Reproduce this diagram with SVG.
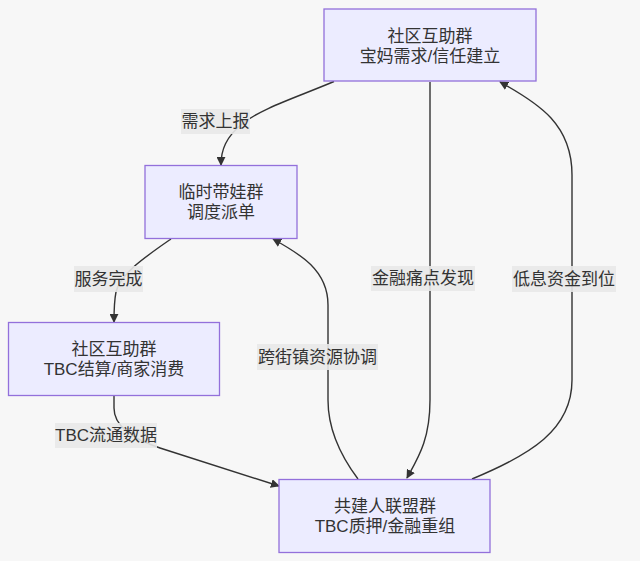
<svg xmlns="http://www.w3.org/2000/svg" width="640" height="561" viewBox="0 0 640 561">
<style>
.bg{fill:#f7f7f7}
.node rect{fill:#ECECFF;stroke:#9370DB;stroke-width:1.3}
text{font-family:"Liberation Sans","Noto Sans CJK SC",sans-serif;font-size:17px;fill:#333;text-anchor:middle;dominant-baseline:central}
.edge{fill:none;stroke:#333;stroke-width:1.4}
.lbl rect{fill:#e8e8e8;fill-opacity:0.9}
</style>
<defs>
<marker id="arr" viewBox="0 0 10 10" refX="9" refY="5" markerUnits="userSpaceOnUse" markerWidth="9" markerHeight="9" orient="auto">
<path d="M0,0 L10,5 L0,10 z" fill="#333"/>
</marker>
</defs>
<rect class="bg" x="0" y="0" width="640" height="561"/>
<g id="connectors">
<path class="edge" d="M334,81.5 C295,98 262,108 242,124 C226,137 221,150 221,165" marker-end="url(#arr)"/>
<path class="edge" d="M171,239 C145,257 120,274 116,292 C114,302 114,310 114,322" marker-end="url(#arr)"/>
<path class="edge" d="M114,396 L114,408 C114,425 130,438 160,448 L279,486" marker-end="url(#arr)"/>
<path class="edge" d="M430,82 L430,400 C430,440 418,458 407,478" marker-end="url(#arr)"/>
<path class="edge" d="M472,479 C530,455 572,430 572,380 L572,175 C572,125 540,104 500,82" marker-end="url(#arr)"/>
<path class="edge" d="M358,479 C340,455 328,430 328,400 L328,305 C328,270 300,254 273,239" marker-end="url(#arr)"/>
</g>
<g id="edge-labels">
<g class="lbl"><rect x="181" y="109" width="69" height="25"/><text x="215.5" y="121.5">需求上报</text></g>
<g class="lbl"><rect x="74" y="266" width="69" height="26"/><text x="108.5" y="279">服务完成</text></g>
<g class="lbl"><rect x="55" y="423" width="102" height="25"/><text x="106" y="435.5">TBC流通数据</text></g>
<g class="lbl"><rect x="371" y="266" width="104" height="25"/><text x="423" y="278.5">金融痛点发现</text></g>
<g class="lbl"><rect x="257" y="344" width="121" height="26"/><text x="317.5" y="357">跨街镇资源协调</text></g>
<g class="lbl"><rect x="512" y="266" width="104" height="26"/><text x="564" y="279">低息资金到位</text></g>
</g>
<g id="nodeA" class="node"><rect x="324" y="9" width="212" height="72"/><text x="430" y="36">社区互助群</text><text x="430" y="56">宝妈需求/信任建立</text></g>
<g id="nodeB" class="node"><rect x="145" y="165.5" width="152" height="73"/><text x="221" y="192">临时带娃群</text><text x="221" y="212">调度派单</text></g>
<g id="nodeC" class="node"><rect x="8.5" y="322.5" width="211" height="73"/><text x="114" y="349">社区互助群</text><text x="114" y="369">TBC结算/商家消费</text></g>
<g id="nodeD" class="node"><rect x="279" y="479.5" width="211" height="73"/><text x="385" y="506">共建人联盟群</text><text x="385" y="526">TBC质押/金融重组</text></g>
</svg>
